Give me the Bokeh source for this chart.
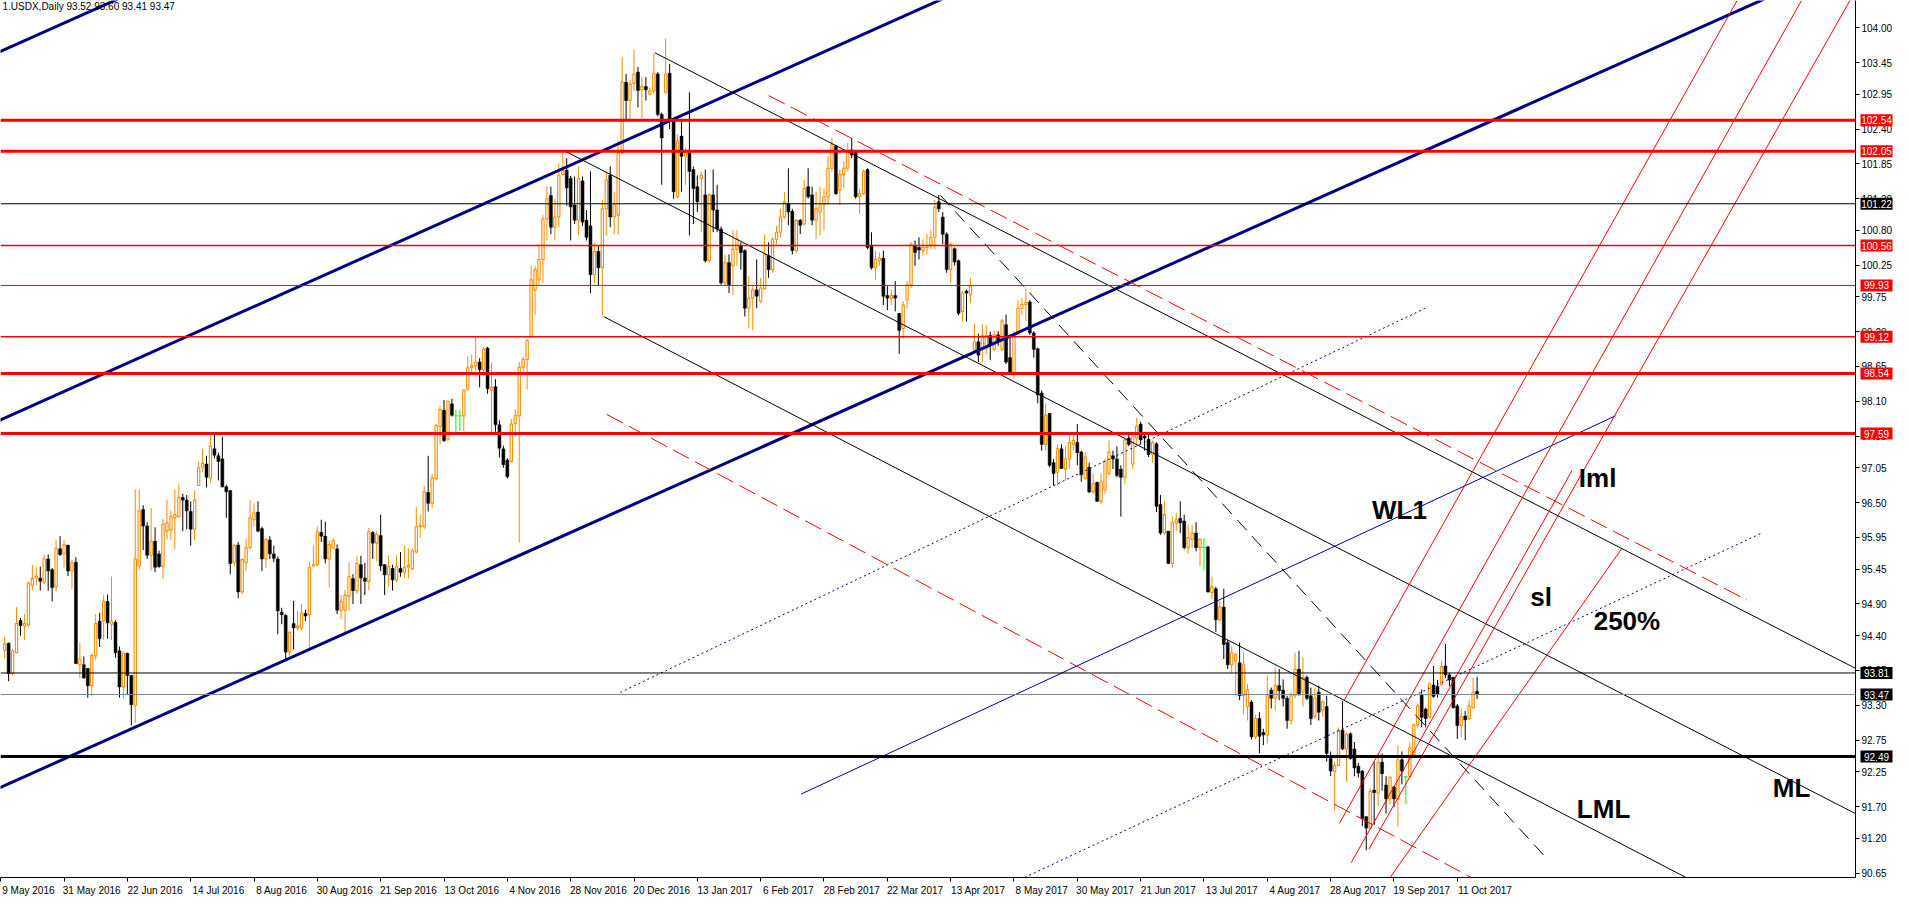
from bokeh.plotting import figure
from bokeh.layouts import row
from bokeh.models import FixedTicker, NumeralTickFormatter, Label, Range1d, Span
from bokeh.embed import file_html
from bokeh.resources import INLINE
from bokeh.core.properties import value

# ---------------- data: daily USDX bars (index 0 = 10 May 2016) ----------------
OPEN = [94.17, 94.28, 93.80, 94.13, 94.64, 94.55, 94.57, 95.20, 95.31, 95.31,
        95.24, 95.61, 95.44, 95.17, 95.77, 95.69, 95.83, 95.42, 95.56, 93.94,
        93.94, 93.88, 93.61, 94.08, 94.63, 94.64, 94.94, 94.58, 94.61, 94.16,
        93.59, 94.12, 93.77, 93.30, 95.50, 96.39, 96.13, 95.67, 95.89, 95.69,
        95.49, 96.05, 96.07, 96.26, 96.28, 96.58, 96.54, 96.36, 96.08, 96.77,
        97.06, 97.11, 96.89, 97.35, 97.24, 97.19, 96.75, 96.69, 95.55, 95.83,
        95.09, 95.55, 95.79, 96.23, 96.35, 96.09, 95.61, 95.91, 95.69, 95.61,
        94.77, 94.72, 94.14, 94.59, 94.52, 94.52, 94.75, 94.73, 95.50, 95.52,
        96.03, 95.97, 95.61, 95.78, 95.77, 94.80, 94.80, 95.02, 95.30, 95.11,
        95.52, 95.31, 95.26, 96.03, 95.86, 95.98, 95.52, 95.36, 95.46, 95.28,
        95.46, 95.40, 95.48, 95.46, 95.72, 96.12, 96.12, 96.66, 96.49, 96.88,
        97.70, 97.96, 97.50, 98.06, 97.87, 97.87, 97.87, 98.29, 98.63, 98.66,
        98.72, 98.60, 98.94, 98.28, 98.33, 97.73, 97.35, 97.17, 97.15, 97.75,
        97.87, 98.64, 98.76, 99.12, 99.86, 100.02, 100.34, 100.98, 101.35, 100.85,
        101.01, 101.68, 101.75, 101.62, 101.20, 100.96, 101.58, 100.96, 100.87, 100.10,
        100.47, 100.21, 101.14, 101.67, 101.01, 101.04, 102.02, 103.14, 102.85, 103.12,
        103.30, 103.02, 103.07, 102.95, 103.00, 103.27, 102.63, 102.98, 103.28, 102.54,
        101.33, 102.29, 101.97, 102.02, 101.76, 101.49, 101.62, 101.36, 100.32, 101.36,
        101.12, 100.82, 99.97, 100.29, 100.24, 100.50, 100.56, 100.48, 99.57, 99.73,
        99.86, 99.68, 99.88, 100.40, 100.18, 100.66, 100.77, 101.01, 101.22, 101.10,
        100.48, 100.96, 100.90, 101.49, 101.36, 100.96, 101.09, 101.20, 101.33, 101.78,
        102.13, 101.43, 101.68, 101.78, 102.07, 102.05, 101.33, 101.38, 101.76, 100.56,
        100.21, 100.32, 100.36, 99.77, 99.73, 99.77, 99.49, 99.25, 99.70, 99.94,
        100.56, 100.53, 100.48, 100.53, 100.56, 100.69, 101.25, 101.01, 100.74, 100.18,
        100.51, 100.32, 99.52, 99.84, 99.78, 98.91, 99.04, 98.93, 98.93, 99.14,
        98.92, 99.15, 98.92, 99.31, 98.79, 98.56, 99.16, 99.57, 99.63, 99.67,
        99.18, 98.93, 98.23, 97.42, 97.91, 97.13, 96.98, 97.35, 97.03, 97.19,
        97.42, 97.45, 97.30, 96.88, 97.06, 96.67, 96.82, 96.52, 96.70, 96.96,
        97.24, 97.19, 97.03, 96.90, 97.52, 97.11, 97.52, 97.74, 97.55, 97.50,
        97.26, 97.43, 96.47, 96.02, 96.05, 95.54, 96.18, 96.25, 96.21, 95.79,
        95.92, 96.02, 95.79, 95.79, 95.80, 95.08, 95.14, 94.65, 94.85, 94.29,
        93.94, 94.00, 93.97, 93.45, 93.28, 93.35, 92.80, 93.09, 92.87, 92.83,
        93.54, 93.41, 93.61, 93.54, 93.41, 93.06, 93.45, 93.87, 93.51, 93.74,
        93.45, 93.12, 93.51, 93.22, 93.28, 92.46, 92.25, 92.35, 92.91, 92.61,
        92.85, 92.61, 92.34, 92.26, 91.54, 91.36, 91.96, 91.91, 92.40, 92.04,
        91.82, 92.01, 91.82, 92.44, 92.17, 92.17, 92.52, 92.99, 93.47, 93.24,
        93.11, 93.62, 93.60, 93.63, 93.92, 93.78, 93.74, 93.29, 92.98, 93.13,
        93.09, 93.26, 93.52]

HIGH = [94.38, 94.29, 94.19, 94.85, 94.68, 94.74, 95.25, 95.52, 95.48, 95.49,
        95.68, 95.68, 95.47, 95.91, 95.97, 95.91, 95.83, 95.60, 95.64, 94.28,
        94.07, 93.89, 94.12, 94.74, 94.76, 95.04, 95.05, 95.33, 94.64, 94.23,
        94.13, 94.13, 93.78, 96.71, 96.71, 96.46, 96.19, 96.42, 96.11, 95.74,
        96.24, 96.54, 96.37, 96.71, 96.79, 96.64, 96.62, 96.52, 96.69, 97.15,
        97.35, 97.24, 97.56, 97.58, 97.29, 97.54, 96.78, 96.70, 95.85, 95.88,
        95.62, 95.93, 96.54, 96.49, 96.52, 96.12, 95.93, 95.97, 95.82, 95.65,
        94.84, 94.74, 94.48, 94.95, 94.79, 94.90, 94.81, 95.56, 95.83, 96.12,
        96.23, 96.20, 95.90, 95.93, 95.84, 95.04, 95.12, 95.56, 95.37, 95.66,
        95.66, 95.55, 96.10, 96.05, 96.05, 96.31, 95.53, 95.67, 95.52, 95.67,
        95.72, 95.82, 95.78, 95.78, 96.43, 96.31, 96.76, 97.24, 96.96, 97.74,
        98.03, 98.12, 98.11, 98.14, 97.97, 97.97, 98.29, 98.81, 98.84, 99.12,
        98.78, 98.96, 98.96, 98.71, 98.45, 97.80, 97.40, 97.20, 97.82, 97.97,
        98.72, 98.80, 99.08, 100.24, 100.24, 100.58, 101.04, 101.49, 101.49, 101.30,
        101.86, 102.07, 101.94, 101.66, 101.65, 101.81, 101.65, 101.12, 101.73, 100.60,
        100.56, 101.28, 101.73, 101.81, 101.41, 102.21, 103.54, 103.27, 103.17, 103.65,
        103.38, 103.22, 103.22, 103.06, 103.60, 103.30, 102.66, 103.83, 103.43, 102.55,
        102.31, 102.53, 102.10, 102.98, 101.81, 101.67, 101.73, 101.76, 101.38, 101.76,
        101.52, 100.86, 100.42, 100.42, 100.80, 100.80, 100.61, 100.50, 100.08, 99.94,
        100.34, 100.05, 100.74, 100.61, 100.69, 100.87, 101.14, 101.41, 101.78, 101.14,
        100.98, 100.98, 101.60, 101.78, 101.49, 101.41, 101.49, 101.46, 101.97, 102.26,
        102.15, 101.76, 101.89, 102.18, 102.26, 102.07, 101.46, 101.76, 101.78, 100.77,
        100.48, 100.45, 100.48, 99.92, 99.86, 100.00, 99.49, 99.68, 100.00, 100.61,
        100.64, 100.69, 100.66, 100.74, 100.80, 101.28, 101.36, 101.09, 100.77, 100.61,
        100.53, 100.34, 99.84, 99.86, 100.05, 99.33, 99.17, 99.33, 99.30, 99.20,
        99.21, 99.21, 99.41, 99.47, 99.15, 99.21, 99.70, 99.73, 99.88, 99.70,
        99.21, 98.95, 98.27, 98.07, 97.91, 97.19, 97.42, 97.42, 97.39, 97.58,
        97.58, 97.74, 97.32, 97.30, 97.13, 96.96, 96.83, 96.96, 97.19, 97.48,
        97.32, 97.39, 97.09, 97.52, 97.61, 97.58, 97.84, 97.78, 97.61, 97.58,
        97.48, 97.45, 96.62, 96.52, 96.05, 96.28, 96.34, 96.52, 96.31, 96.15,
        96.15, 96.19, 95.94, 95.94, 95.82, 95.33, 95.17, 94.95, 95.14, 94.33,
        94.23, 94.13, 94.29, 94.13, 93.64, 93.38, 93.15, 93.19, 92.93, 93.77,
        93.58, 93.90, 93.87, 93.71, 93.45, 93.51, 94.13, 94.16, 94.06, 93.77,
        93.58, 93.58, 93.61, 93.38, 93.45, 92.57, 92.41, 92.95, 93.37, 92.87,
        92.87, 92.72, 92.39, 92.28, 91.55, 91.99, 92.41, 92.54, 92.54, 92.18,
        92.18, 92.03, 92.67, 92.57, 92.17, 92.72, 93.01, 93.33, 93.55, 93.26,
        93.66, 93.92, 93.70, 94.00, 94.27, 93.81, 93.75, 93.32, 93.25, 93.21,
        93.39, 93.74, 93.75]

LOW = [94.04, 93.68, 93.77, 94.12, 94.40, 94.33, 94.53, 95.12, 95.20, 95.11,
       95.21, 95.11, 94.94, 95.10, 95.66, 95.47, 95.34, 95.14, 93.95, 93.73,
       93.72, 93.42, 93.44, 94.01, 94.22, 94.33, 94.35, 94.33, 94.05, 93.42,
       93.41, 93.46, 92.98, 93.02, 95.44, 95.75, 95.61, 95.43, 95.40, 95.47,
       95.30, 95.92, 95.91, 95.77, 96.26, 96.05, 96.08, 95.82, 95.91, 96.77,
       96.98, 96.74, 96.82, 97.20, 96.85, 96.74, 96.26, 95.37, 95.49, 94.99,
       95.06, 95.43, 95.77, 96.12, 96.03, 95.42, 95.47, 95.61, 95.56, 94.42,
       94.58, 94.02, 94.08, 94.18, 94.48, 94.48, 94.63, 94.21, 95.49, 95.49,
       95.88, 95.54, 95.16, 95.77, 94.74, 94.66, 94.43, 94.79, 94.90, 95.06,
       94.90, 95.04, 95.12, 95.61, 95.57, 95.42, 95.04, 95.17, 95.11, 95.24,
       95.33, 95.31, 95.30, 95.43, 95.70, 95.95, 96.08, 96.36, 96.41, 96.85,
       97.42, 97.46, 97.47, 97.86, 97.58, 97.63, 97.63, 98.27, 98.55, 98.58,
       98.32, 98.50, 98.22, 97.62, 97.62, 97.21, 97.05, 96.88, 97.13, 97.54,
       95.87, 98.55, 98.29, 99.10, 99.46, 99.92, 99.97, 100.64, 100.74, 100.64,
       100.85, 101.67, 101.19, 100.64, 100.90, 100.72, 100.87, 100.64, 99.81, 99.97,
       99.92, 99.46, 100.72, 100.85, 100.74, 100.74, 102.00, 102.55, 102.54, 103.00,
       102.74, 102.57, 102.85, 102.93, 102.95, 102.60, 101.52, 102.95, 102.40, 101.30,
       101.30, 101.41, 101.52, 100.72, 100.90, 101.09, 100.77, 100.29, 100.29, 100.77,
       100.77, 99.94, 99.92, 99.81, 99.78, 100.24, 100.18, 99.44, 99.25, 99.22,
       99.57, 99.65, 99.86, 100.05, 100.13, 100.58, 100.69, 100.98, 100.88, 100.42,
       100.45, 100.74, 100.88, 101.30, 100.88, 100.66, 100.72, 100.80, 101.20, 101.73,
       101.36, 101.20, 101.46, 101.73, 101.94, 101.30, 101.06, 101.36, 100.50, 100.18,
       100.02, 100.24, 99.62, 99.54, 99.62, 99.52, 98.85, 99.09, 99.57, 99.89,
       100.24, 100.34, 100.40, 100.42, 100.50, 100.50, 101.09, 100.58, 100.13, 99.97,
       100.24, 99.46, 99.36, 99.36, 99.65, 98.85, 98.72, 98.72, 98.85, 98.75,
       98.89, 98.98, 98.89, 98.69, 98.53, 98.46, 99.15, 99.47, 99.37, 99.15,
       98.79, 98.07, 97.32, 97.32, 97.06, 96.77, 96.77, 97.03, 96.85, 97.03,
       97.32, 97.09, 96.83, 96.87, 96.65, 96.64, 96.51, 96.48, 96.64, 96.93,
       97.03, 96.90, 96.28, 96.80, 97.39, 97.03, 97.39, 97.42, 97.32, 97.22,
       97.13, 96.35, 95.99, 95.99, 95.53, 95.47, 96.05, 96.02, 95.76, 95.69,
       95.79, 95.73, 95.50, 95.43, 95.08, 94.98, 94.46, 94.62, 94.03, 93.87,
       93.81, 93.45, 93.38, 93.15, 93.06, 92.76, 92.76, 92.54, 92.67, 92.70,
       93.25, 93.22, 93.38, 93.28, 92.93, 92.99, 93.41, 93.45, 93.28, 93.38,
       92.99, 93.09, 93.06, 93.12, 92.41, 92.18, 91.64, 92.34, 92.59, 92.09,
       92.44, 92.18, 92.16, 91.39, 91.01, 91.34, 91.41, 91.70, 91.95, 91.59,
       91.74, 91.69, 91.38, 92.05, 91.74, 92.16, 92.49, 92.95, 92.95, 92.95,
       93.09, 93.42, 93.42, 93.61, 93.73, 93.60, 93.25, 92.77, 92.80, 92.75,
       93.07, 93.24, 93.40]

CLOSE = [94.27, 93.80, 94.16, 94.59, 94.56, 94.59, 95.23, 95.30, 95.34, 95.26,
         95.61, 95.42, 95.16, 95.78, 95.68, 95.84, 95.42, 95.55, 93.96, 94.03,
         93.73, 93.61, 94.09, 94.59, 94.35, 94.94, 94.60, 94.62, 94.13, 93.59,
         94.12, 93.77, 93.31, 95.61, 96.37, 96.13, 95.67, 95.89, 95.48, 95.49,
         96.16, 96.18, 96.28, 96.31, 96.58, 96.54, 96.37, 96.08, 96.54, 97.05,
         97.12, 96.90, 97.39, 97.25, 97.15, 96.75, 96.67, 95.54, 95.82, 95.09,
         95.60, 95.79, 96.26, 96.34, 96.05, 95.61, 95.92, 95.69, 95.62, 94.79,
         94.73, 94.14, 94.45, 94.52, 94.55, 94.76, 94.71, 95.48, 95.52, 96.04,
         95.97, 95.61, 95.84, 95.90, 94.80, 94.94, 95.04, 95.33, 95.11, 95.54,
         95.31, 95.26, 96.04, 95.86, 96.00, 95.50, 95.36, 95.49, 95.28, 95.49,
         95.40, 95.48, 95.51, 95.74, 96.12, 96.14, 96.67, 96.49, 96.89, 97.72,
         97.97, 97.48, 98.10, 97.88, 97.87, 97.87, 98.28, 98.63, 98.66, 98.72,
         98.60, 98.92, 98.30, 98.32, 97.73, 97.36, 97.10, 96.91, 97.74, 97.88,
         98.64, 98.76, 99.06, 100.02, 100.18, 100.34, 100.98, 101.30, 100.85, 101.01,
         101.67, 101.75, 101.47, 101.17, 100.96, 101.62, 100.93, 100.69, 100.10, 100.47,
         100.21, 101.14, 101.60, 101.01, 101.20, 102.02, 103.14, 102.85, 103.11, 103.27,
         103.01, 103.07, 103.02, 103.00, 103.28, 102.63, 102.26, 103.27, 102.53, 101.41,
         102.21, 101.97, 102.05, 101.73, 101.46, 101.25, 101.67, 100.32, 101.36, 101.12,
         100.82, 99.97, 100.29, 99.94, 100.50, 100.66, 100.45, 99.57, 99.73, 99.86,
         99.76, 99.89, 100.42, 100.18, 100.66, 100.77, 101.01, 101.25, 101.09, 100.48,
         100.96, 100.88, 101.46, 101.33, 100.96, 101.14, 101.20, 101.33, 101.78, 102.15,
         101.38, 101.68, 101.78, 102.07, 101.99, 101.33, 101.38, 101.73, 100.53, 100.21,
         100.34, 100.36, 99.76, 99.73, 99.77, 99.73, 99.22, 99.62, 99.94, 100.58,
         100.45, 100.49, 100.53, 100.56, 100.69, 101.17, 101.14, 100.74, 100.18, 100.58,
         100.30, 99.49, 99.81, 99.81, 99.92, 99.04, 98.83, 99.14, 99.14, 98.98,
         99.15, 99.05, 99.37, 98.72, 98.54, 99.16, 99.57, 99.63, 99.66, 99.18,
         98.92, 98.20, 97.42, 97.88, 97.09, 96.96, 97.35, 97.04, 97.19, 97.45,
         97.48, 97.29, 96.94, 97.22, 96.67, 96.80, 96.52, 96.83, 97.15, 97.30,
         97.19, 96.93, 96.90, 97.49, 97.42, 97.55, 97.71, 97.49, 97.52, 97.26,
         97.45, 96.44, 96.02, 96.31, 95.54, 96.19, 96.23, 96.18, 95.79, 95.95,
         96.02, 95.79, 95.92, 95.79, 95.09, 95.17, 94.65, 94.85, 94.26, 93.94,
         94.13, 94.10, 93.45, 93.94, 93.54, 92.80, 93.09, 92.81, 92.83, 93.45,
         93.41, 93.61, 93.53, 93.41, 93.06, 93.45, 93.87, 93.48, 93.74, 93.41,
         93.09, 93.41, 93.19, 93.35, 92.54, 92.26, 92.35, 92.91, 92.61, 92.84,
         92.46, 92.31, 92.23, 91.51, 91.36, 91.94, 91.92, 92.40, 92.22, 91.82,
         92.16, 91.82, 92.44, 92.26, 92.17, 92.63, 92.99, 93.29, 93.11, 93.09,
         93.64, 93.44, 93.47, 93.91, 93.78, 93.70, 93.26, 92.98, 93.12, 93.07,
         93.29, 93.51, 93.47]

# time-axis labels (one every 16 bars, first one at bar -1 = 9 May 2016)
DATE_LABELS = ["9 May 2016", "31 May 2016", "22 Jun 2016", "14 Jul 2016", "8 Aug 2016",
               "30 Aug 2016", "21 Sep 2016", "13 Oct 2016", "4 Nov 2016", "28 Nov 2016",
               "20 Dec 2016", "13 Jan 2017", "6 Feb 2017", "28 Feb 2017", "22 Mar 2017",
               "13 Apr 2017", "8 May 2017", "30 May 2017", "21 Jun 2017", "13 Jul 2017",
               "4 Aug 2017", "28 Aug 2017", "19 Sep 2017", "11 Oct 2017"]
DATE_LABEL_FIRST_BAR = -1
DATE_LABEL_STEP = 16

PRICE_TICKS = [104.00, 103.45, 102.95, 102.40, 101.85, 101.30, 100.80, 100.25, 99.75,
               99.20, 98.65, 98.10, 97.55, 97.05, 96.50, 95.95, 95.45, 94.90, 94.40,
               93.85, 93.30, 92.75, 92.25, 91.70, 91.20, 90.65]

# horizontal price levels
LEVELS = [102.54, 102.05, 101.22, 100.56, 99.93, 99.12, 98.54, 97.59, 93.81, 92.49]
BID = 93.47
HEADER = "1.USDX,Daily  93.52 93.60 93.41 93.47"

# trendline anchors (bar index, price)
TL_J0 = [0, 0, 0, 201.2, 155.55, 257.7, 164.28, 141.2, 151.38, 236.38, 193.03, 152.2,
         338.45, 337.2, 344.7, 340.2, 349.7]
TL_V0 = [103.654, 97.836, 92.033, 91.897, 93.503, 90.582, 103.604, 102.063, 99.437,
         101.356, 102.928, 97.891, 93.383, 91.433, 91.031, 90.814, 90.551]
TL_J1 = [400, 400, 400, 406.95, 358.88, 444.2, 467.63, 467.63, 424.73, 389.2, 440.2,
         370.45, 437.7, 453.95, 466.2, 395.95, 408.45]
TL_V1 = [114.830, 109.012, 103.209, 97.870, 99.569, 96.028, 93.882, 91.588, 90.582,
         90.907, 94.961, 90.582, 104.430, 104.430, 104.430, 97.003, 95.765]

# text annotations (bar index, price)
NOTE_TEXT = ["WL1", "Iml", "sl", "250%", "ML", "LML"]
NOTE_J = [345.45, 397.7, 385.45, 401.45, 446.7, 397.2]
NOTE_V = [96.384, 96.895, 95.007, 94.636, 92.0, 91.66]

# ---------------- styles ----------------
BULL = "#FF8C00"
BEAR = "#000000"
DOJI = "#00FF00"
LEVEL_COLORS = ["#FF0000", "#FF0000", "#000000", "#FF0000", "#FF0000", "#FF0000",
                "#FF0000", "#FF0000", "#000000", "#000000"]
LEVEL_WIDTHS = [3, 3, 1, 1.5, 1, 1.5, 3, 3, 1, 3]
TL_EXTEND = [True, True, True] + [False] * 14
TL_COLORS = ["#000080", "#000080", "#000080", "#00009C", "#000080", "#000080",
             "#000000", "#000000", "#000000", "#000000", "#FF0000", "#FF0000",
             "#FF0000", "#FF0000", "#FF0000", "#FF0000", "#FF0000"]
TL_WIDTHS = [3, 3, 3, 1, 1, 1, 1, 1, 1, 1, 1, 1, 1, 1, 1, 1, 1]
TL_DASH = ["solid", "solid", "solid", "solid", "2 3", "2 3", "solid", "solid", "solid",
           "14 8", "18 7", "18 7", "solid", "solid", "solid", "solid", "solid"]

X_START, X_END = -1.05, 467.6
Y_START, Y_END = 90.58, 104.43
FONT = "Liberation Sans"
FRAME_W, FRAME_H = 1855, 877
LABEL_SHIFT = 7.0      # date labels start just right of their tick (in bars)
TAG_STRIP = 40         # width of the overlay strip holding the price tags

p = figure(frame_width=FRAME_W, frame_height=FRAME_H, output_backend="svg",
           toolbar_location=None,
           x_range=Range1d(X_START, X_END), y_range=Range1d(Y_START, Y_END),
           y_axis_location="right", min_border_left=0, min_border_top=0,
           min_border_right=0, min_border_bottom=0)
p.grid.visible = False
p.outline_line_color = None
p.background_fill_color = "white"
p.border_fill_color = "white"

# ---------------- candles ----------------
idx = list(range(len(OPEN)))
bull = [i for i in idx if CLOSE[i] > OPEN[i]]
bear = [i for i in idx if CLOSE[i] < OPEN[i]]
doji = [i for i in idx if CLOSE[i] == OPEN[i]]

p.segment(x0=bull, x1=bull, y0=[LOW[i] for i in bull], y1=[HIGH[i] for i in bull],
          line_color=BULL, line_width=1)
p.segment(x0=bear, x1=bear, y0=[LOW[i] for i in bear], y1=[HIGH[i] for i in bear],
          line_color=BEAR, line_width=1)
p.segment(x0=doji, x1=doji, y0=[LOW[i] for i in doji], y1=[HIGH[i] for i in doji],
          line_color=DOJI, line_width=1)
p.segment(x0=[i - 0.45 for i in doji], x1=[i + 0.45 for i in doji],
          y0=[OPEN[i] for i in doji], y1=[OPEN[i] for i in doji],
          line_color=DOJI, line_width=1)
p.vbar(x=bull, width=0.58, top=[CLOSE[i] for i in bull], bottom=[OPEN[i] for i in bull],
       fill_color="white", line_color=BULL, line_width=1.1)
p.vbar(x=bear, width=0.75, top=[OPEN[i] for i in bear], bottom=[CLOSE[i] for i in bear],
       fill_color=BEAR, line_color=BEAR, line_width=0.5)

# ---------------- levels ----------------
for lv, c, w in zip(LEVELS, LEVEL_COLORS, LEVEL_WIDTHS):
    p.add_layout(Span(location=lv, dimension="width", line_color=c, line_width=w))
p.add_layout(Span(location=BID, dimension="width", line_color="#778899", line_width=1))

# ---------------- trendlines ----------------
for k in range(len(TL_J0)):
    j0, v0, j1, v1 = TL_J0[k], TL_V0[k], TL_J1[k], TL_V1[k]
    if TL_EXTEND[k]:
        s = (v1 - v0) / (j1 - j0)
        v0, v1 = v0 + s * (X_START - 5 - j0), v0 + s * (X_END + 5 - j0)
        j0, j1 = X_START - 5, X_END + 5
    p.line([j0, j1], [v0, v1], line_color=TL_COLORS[k], line_width=TL_WIDTHS[k],
           line_dash=TL_DASH[k])

# ---------------- notes ----------------
for t, j, v in zip(NOTE_TEXT, NOTE_J, NOTE_V):
    p.add_layout(Label(x=j, y=v, text=t, text_font=FONT, text_font_size="26px",
                       text_font_style="bold", text_color="black",
                       text_baseline="middle", text_align="left"))

p.add_layout(Label(x=X_START, y=Y_END, x_offset=2, text=HEADER, text_color="black",
                   text_font=FONT, text_font_size="10px",
                   text_baseline="top", text_align="left"))

# ---------------- axes ----------------
# time axis: tick marks (minor ticks) on the bars, labels written just right of them
date_ticks = [DATE_LABEL_FIRST_BAR + DATE_LABEL_STEP * k for k in range(len(DATE_LABELS))]
label_ticks = [t + LABEL_SHIFT for t in date_ticks]
xa = p.xaxis[0]
xa.ticker = FixedTicker(ticks=label_ticks, minor_ticks=date_ticks)
xa.major_label_overrides = {t: lab for t, lab in zip(label_ticks, DATE_LABELS)}
xa.major_label_text_font = FONT
xa.major_label_text_font_size = "10px"
xa.major_label_text_color = "black"
xa.major_label_standoff = 3
xa.major_tick_out = 0
xa.major_tick_in = 0
xa.minor_tick_out = 4
xa.minor_tick_in = 0
xa.axis_line_color = "black"
xa.minor_tick_line_color = "black"

ya = p.yaxis[0]
ya.ticker = FixedTicker(ticks=PRICE_TICKS)
ya.formatter = NumeralTickFormatter(format="0.00")
ya.major_label_text_font = FONT
ya.major_label_text_font_size = "10px"
ya.major_label_text_color = "black"
ya.major_tick_out = 4
ya.major_tick_in = 0
ya.minor_tick_out = 0
ya.minor_tick_in = 0
ya.major_label_standoff = 2
ya.axis_line_color = "black"
ya.major_tick_line_color = "black"

# ---------------- price tags: transparent strip laid over the price scale ----------------
q = figure(frame_width=TAG_STRIP, frame_height=FRAME_H, output_backend="svg",
           toolbar_location=None, x_range=Range1d(0, TAG_STRIP), y_range=p.y_range,
           x_axis_location=None, y_axis_location=None, min_border_left=0,
           min_border_right=0, min_border_top=0, min_border_bottom=0,
           margin=(0, 0, 0, -TAG_STRIP))
q.grid.visible = False
q.outline_line_color = None
q.background_fill_color = None
q.border_fill_color = None

tag_levels = LEVELS + [BID]
tag_colors = LEVEL_COLORS + ["#000000"]
tag_text = ["%.2f" % v for v in tag_levels]
q.rect(x=[21] * len(tag_levels), y=tag_levels, width=32, height=12, height_units="screen",
       fill_color=tag_colors, line_color=None)
q.text(x=[21] * len(tag_levels), y=tag_levels, text=tag_text, text_color="white",
       text_font=value(FONT), text_font_size="10px", text_align="center",
       text_baseline="middle")

layout = row(p, q, spacing=0)
open("out.html", "w").write(file_html(layout, INLINE))
